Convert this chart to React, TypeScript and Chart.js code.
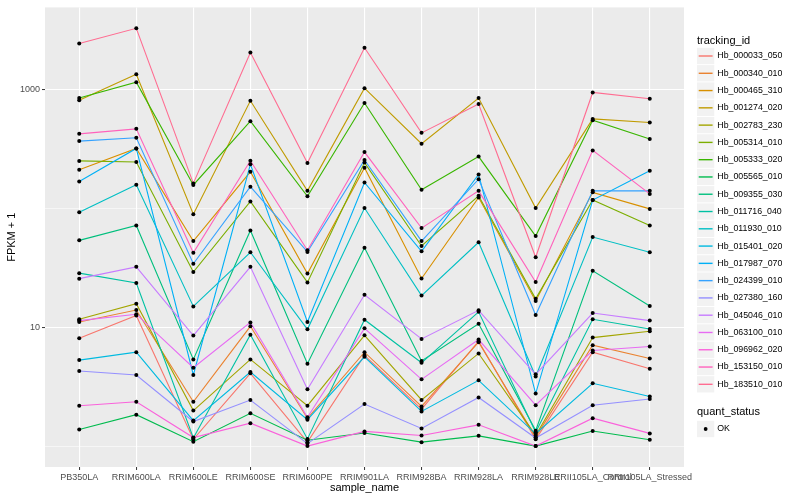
import React, { useEffect, useRef } from "react";
import { Chart, registerables } from "chart.js";

Chart.register(...registerables);

const FONT = "'Liberation Sans', Arial, Helvetica, sans-serif";

const sampleNames = [
  "PB350LA",
  "RRIM600LA",
  "RRIM600LE",
  "RRIM600SE",
  "RRIM600PE",
  "RRIM901LA",
  "RRIM928BA",
  "RRIM928LA",
  "RRIM928LE",
  "RRII105LA_Control",
  "RRII105LA_Stressed",
];

const trackingIds = [
  "Hb_000033_050",
  "Hb_000340_010",
  "Hb_000465_310",
  "Hb_001274_020",
  "Hb_002783_230",
  "Hb_005314_010",
  "Hb_005333_020",
  "Hb_005565_010",
  "Hb_009355_030",
  "Hb_011716_040",
  "Hb_011930_010",
  "Hb_015401_020",
  "Hb_017987_070",
  "Hb_024399_010",
  "Hb_027380_160",
  "Hb_045046_010",
  "Hb_063100_010",
  "Hb_096962_020",
  "Hb_153150_010",
  "Hb_183510_010",
];

const trackingColors = [
  "#F8766D", "#EA8331", "#D89000", "#C09B00", "#A3A500",
  "#7CAE00", "#39B600", "#00BB4E", "#00BF7D", "#00C1A3",
  "#00BFC4", "#00BAE0", "#00B0F6", "#35A2FF", "#9590FF",
  "#C77CFF", "#E76BF3", "#FA62DB", "#FF62BC", "#FF6C91",
];

// FPKM + 1 per sample, in sampleNames order
const hb000033_050 = [8.09, 12.6, 1.14, 4.1, 1.08, 5.8, 2.05, 7.64, 1.14, 6.18, 4.48];
const hb000340_010 = [11.1, 14.0, 2.36, 10.2, 1.71, 6.18, 2.16, 7.49, 1.19, 7.07, 5.47];
const hb000465_310 = [212, 321, 53.3, 204, 28.4, 221, 25.8, 124, 16.7, 137, 99.4];
const hb001274_020 = [815, 1352, 89.7, 809, 141, 1033, 352, 852, 101, 569, 530];
const hb002783_230 = [11.7, 15.8, 1.99, 5.37, 2.19, 8.57, 2.45, 6.03, 1.23, 8.2, 9.26];
const hb005314_010 = [252, 247, 29.2, 115, 23.9, 244, 48.4, 128, 17.4, 118, 72.1];
const hb005333_020 = [852, 1159, 158, 544, 127, 774, 144, 274, 58.7, 554, 385];
const hb005565_010 = [1.38, 1.84, 1.09, 1.89, 1.12, 1.29, 1.08, 1.22, 1.0, 1.34, 1.13];
const hb009355_030 = [54.0, 72.1, 5.37, 65.5, 4.94, 46.9, 5.2, 10.7, 1.35, 29.9, 15.1];
const hb011716_040 = [28.6, 23.6, 1.17, 8.68, 1.15, 11.6, 5.03, 13.5, 1.31, 11.7, 9.68];
const hb011930_010 = [93.2, 159, 15.0, 42.9, 9.62, 101, 18.5, 52.0, 3.85, 57.6, 42.9];
const hb015401_020 = [5.3, 6.18, 1.64, 4.21, 1.67, 5.65, 1.96, 3.58, 1.27, 3.38, 2.62];
const hb017987_070 = [169, 321, 3.97, 236, 11.1, 166, 43.7, 194, 2.77, 118, 208];
const hb024399_010 = [370, 395, 34.3, 153, 43.2, 257, 53.3, 177, 12.7, 141, 141];
const hb027380_160 = [4.29, 3.97, 1.61, 2.44, 1.05, 2.26, 1.41, 2.57, 1.17, 2.21, 2.49];
const hb045046_010 = [25.7, 32.3, 8.52, 32.3, 3.01, 18.8, 7.99, 13.9, 4.02, 13.2, 11.4];
const hb063100_010 = [11.4, 12.9, 4.57, 11.0, 1.75, 9.81, 3.65, 7.89, 2.21, 6.38, 6.89];
const hb096962_020 = [2.19, 2.36, 1.18, 1.56, 1.0, 1.33, 1.23, 1.51, 1.0, 1.72, 1.28];
const hb153150_010 = [426, 469, 42.4, 253, 44.6, 299, 68.5, 141, 24.1, 309, 133];
const hb183510_010 = [2455, 3296, 163, 2065, 242, 2259, 434, 759, 38.9, 950, 841];

const seriesValues = [
  hb000033_050, hb000340_010, hb000465_310, hb001274_020, hb002783_230,
  hb005314_010, hb005333_020, hb005565_010, hb009355_030, hb011716_040,
  hb011930_010, hb015401_020, hb017987_070, hb024399_010, hb027380_160,
  hb045046_010, hb063100_010, hb096962_020, hb153150_010, hb183510_010,
];

const yGridValues = [1, 10, 100, 1000];
const yLabelledValues = [10, 1000];
const quantStatusLevels = ["OK"];

const panelBackground = {
  id: "panelBackground",
  beforeDraw(chart: any) {
    const { ctx, chartArea } = chart;
    const { left, top, right, bottom } = chartArea;
    ctx.save();
    ctx.fillStyle = "#EBEBEB";
    ctx.fillRect(left, top, right - left, bottom - top);
    ctx.restore();
  },
};

const ggLegend = {
  id: "ggLegend",
  afterDraw(chart: any) {
    const ctx = chart.ctx;
    const x0 = chart.chartArea.right + 13;
    const key = 17.28;
    ctx.save();
    ctx.textAlign = "left";
    ctx.textBaseline = "middle";
    ctx.fillStyle = "#000000";
    ctx.font = `11px ${FONT}`;
    ctx.fillText("tracking_id", x0, 40.7);
    const firstCy = 56;
    trackingIds.forEach((id, i) => {
      const cy = firstCy + i * key;
      ctx.fillStyle = "#F2F2F2";
      ctx.fillRect(x0, cy - key / 2 + 0.5, key, key - 1);
      ctx.strokeStyle = trackingColors[i];
      ctx.lineWidth = 1.4;
      ctx.beginPath();
      ctx.moveTo(x0 + 1.7, cy);
      ctx.lineTo(x0 + key - 1.7, cy);
      ctx.stroke();
      ctx.fillStyle = "#000000";
      ctx.font = `8.8px ${FONT}`;
      ctx.fillText(id, x0 + key + 3, cy);
    });
    ctx.font = `11px ${FONT}`;
    ctx.fillStyle = "#000000";
    ctx.fillText("quant_status", x0, 411.7);
    quantStatusLevels.forEach((lvl, i) => {
      const cy = 429 + i * key;
      ctx.fillStyle = "#F2F2F2";
      ctx.fillRect(x0, cy - key / 2 + 0.5, key, key - 1);
      ctx.fillStyle = "#000000";
      ctx.beginPath();
      ctx.arc(x0 + key / 2, cy, 1.9, 0, Math.PI * 2);
      ctx.fill();
      ctx.font = `8.8px ${FONT}`;
      ctx.fillText(lvl, x0 + key + 3, cy);
    });
    ctx.restore();
  },
};

export default function App() {
  const canvasRef = useRef<HTMLCanvasElement | null>(null);

  useEffect(() => {
    document.body.style.margin = "0";
    const canvas = canvasRef.current;
    if (!canvas) return;

    const n = seriesValues.length;
    const lineSets = seriesValues.map((vals, i) => ({
      label: trackingIds[i],
      data: vals.map((v, j) => ({ x: j, y: v })),
      borderColor: trackingColors[i],
      backgroundColor: trackingColors[i],
      borderWidth: 1.1,
      pointRadius: 0,
      tension: 0,
      fill: false,
      order: 100 + (n - i),
    }));
    const pointSets = seriesValues.map((vals, i) => ({
      label: trackingIds[i] + " OK",
      data: vals.map((v, j) => ({ x: j, y: v })),
      showLine: false,
      pointRadius: 2,
      pointBackgroundColor: "#000000",
      pointBorderWidth: 0,
      borderColor: "#000000",
      order: 0,
    }));

    const chart = new Chart(canvas, {
      type: "line",
      data: { datasets: [...lineSets, ...pointSets] as any },
      plugins: [panelBackground, ggLegend],
      options: {
        animation: false,
        responsive: true,
        maintainAspectRatio: false,
        layout: { padding: { top: 5, right: 116, left: 0, bottom: 0 } },
        plugins: {
          legend: { display: false },
          tooltip: { enabled: false },
        },
        scales: {
          x: {
            type: "linear",
            min: -0.6,
            max: sampleNames.length - 1 + 0.6,
            afterBuildTicks: (scale: any) => {
              scale.ticks = sampleNames.map((_, i) => ({ value: i }));
            },
            afterFit: (scale: any) => {
              scale.height = 33;
            },
            ticks: {
              autoSkip: false,
              maxRotation: 0,
              minRotation: 0,
              padding: 2.5,
              color: "#4D4D4D",
              font: { family: FONT, size: 9 },
              callback: (_v: any, idx: number) => sampleNames[idx] ?? "",
            },
            grid: {
              color: "#FFFFFF",
              lineWidth: 1.1,
              tickLength: 3,
              tickColor: "#333333",
              tickWidth: 1,
            },
            border: { display: false },
            title: {
              display: true,
              text: "sample_name",
              color: "#000000",
              font: { family: FONT, size: 11 },
              padding: { top: 0, bottom: 5 },
            },
          },
          y: {
            type: "logarithmic",
            min: 0.667,
            max: 4943,
            afterBuildTicks: (scale: any) => {
              scale.ticks = yGridValues.map((v) => ({ value: v }));
            },
            afterFit: (scale: any) => {
              scale.width = 45;
            },
            ticks: {
              autoSkip: false,
              padding: 2,
              color: "#4D4D4D",
              font: { family: FONT, size: 9 },
              callback: (v: any) => (yLabelledValues.includes(Number(v)) ? String(v) : ""),
            },
            grid: {
              color: "#FFFFFF",
              lineWidth: (c: any) => (yLabelledValues.includes(c.tick?.value) ? 1.1 : 0.55),
              tickLength: 3,
              tickColor: (c: any) =>
                yLabelledValues.includes(c.tick?.value) ? "#333333" : "rgba(0,0,0,0)",
              tickWidth: 1,
            },
            border: { display: false },
            title: {
              display: true,
              text: "FPKM + 1",
              color: "#000000",
              font: { family: FONT, size: 11 },
              padding: { top: 5, bottom: 0 },
            },
          },
        },
      } as any,
    });

    return () => {
      chart.destroy();
    };
  }, []);

  return (
    <div style={{ position: "absolute", left: 0, top: 0, width: 800, height: 500, background: "#FFFFFF" }}>
      <canvas ref={canvasRef} />
    </div>
  );
}
